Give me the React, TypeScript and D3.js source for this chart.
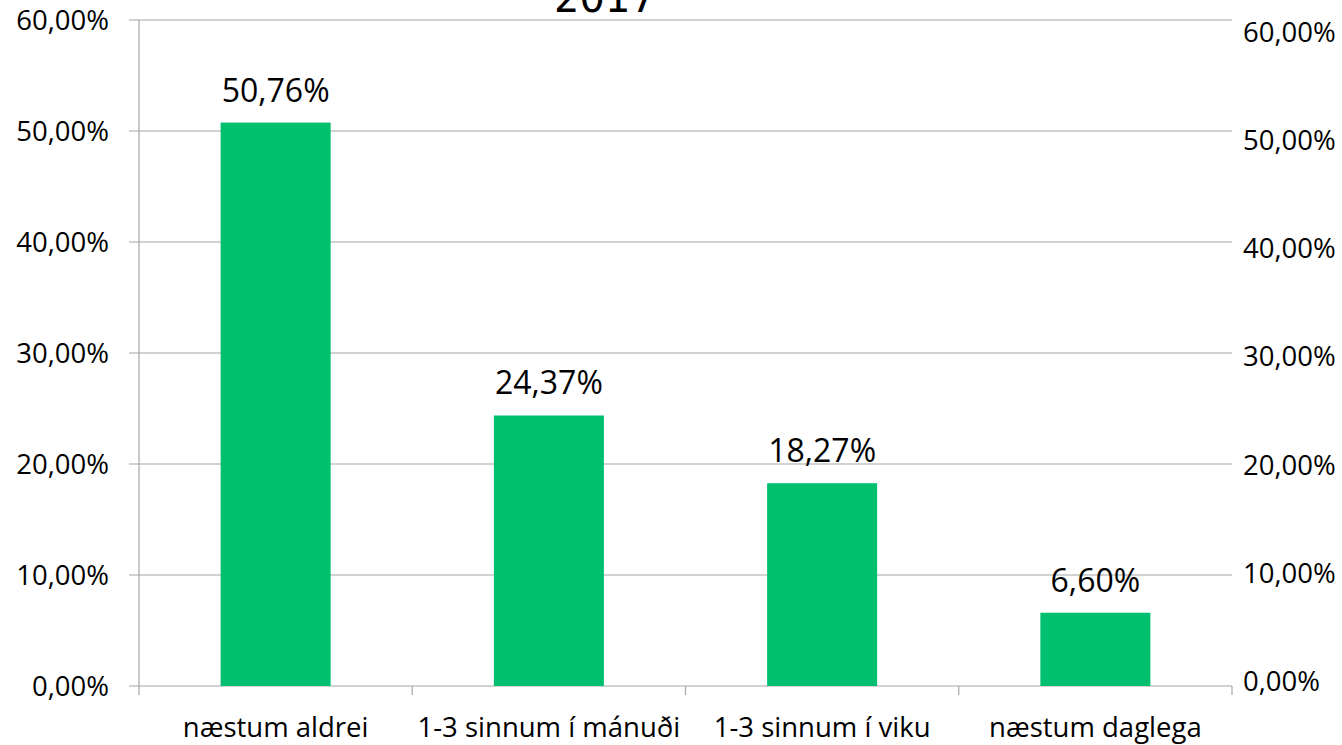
import React from 'react'
import * as d3 from 'd3'

const categories = ['næstum aldrei', '1-3 sinnum í mánuði', '1-3 sinnum í viku', 'næstum daglega']
const values = [50.76, 24.37, 18.27, 6.6]
const yTicks = [0, 10, 20, 30, 40, 50, 60]
const title = '2017'

const W = 1342
const H = 745
const plot = {left: 139, right: 1232, top: 20, bottom: 686}
const green = '#00bf6f'
const grid = '#a6a6a6'
const font = '"Open Sans", Lato, sans-serif'

const fmt = (v: number) => v.toFixed(2).replace('.', ',') + '%'

export default function App() {
    const x = d3.scaleBand().domain(categories).range([plot.left, plot.right]).paddingInner(0).paddingOuter(0)
    const y = d3.scaleLinear().domain([0, 60]).range([plot.bottom, plot.top])
    // secondary axis in the original sits a little lower than the main one
    const y2 = d3.scaleLinear().domain([0, 60]).range([681, 32])
    const barW = 110

    return (
        <svg width={W} height={H} style={{position: 'absolute', left: 0, top: 0, background: '#fff'}}>
            <text x={605} y={12} textAnchor="middle" fontFamily="'DejaVu Sans', sans-serif" fontSize={40} fill="#000">{title}</text>

            {yTicks.map(t => (
                <g key={'g' + t}>
                    <line x1={plot.left - 10} x2={plot.right} y1={y(t)} y2={y(t)} stroke={grid} strokeWidth={1.2} />
                    <text x={109} y={y(t)} dy="0.36em" textAnchor="end" fontFamily={font} fontSize={27.5} fill="#000">{fmt(t)}</text>
                    <text x={1243} y={y2(t)} dy="0.36em" textAnchor="start" fontFamily={font} fontSize={27.5} fill="#000">{fmt(t)}</text>
                </g>
            ))}

            <line x1={plot.left} x2={plot.left} y1={plot.top} y2={plot.bottom + 9} stroke={grid} strokeWidth={1.2} />
            {categories.map(c => (
                <line key={'t' + c} x1={(x(c) as number) + x.bandwidth()} x2={(x(c) as number) + x.bandwidth()} y1={plot.bottom} y2={plot.bottom + 9} stroke={grid} strokeWidth={1.2} />
            ))}

            {categories.map((c, i) => {
                const cx = (x(c) as number) + x.bandwidth() / 2
                return (
                    <g key={c}>
                        <rect x={cx - barW / 2} y={y(values[i])} width={barW} height={y(0) - y(values[i])} fill={green} />
                        <text x={cx} y={y(values[i]) - 21} textAnchor="middle" fontFamily={font} fontSize={32} fill="#000">{fmt(values[i])}</text>
                        <text x={cx} y={737} textAnchor="middle" fontFamily={font} fontSize={27.5} fill="#000">{c}</text>
                    </g>
                )
            })}
        </svg>
    )
}
